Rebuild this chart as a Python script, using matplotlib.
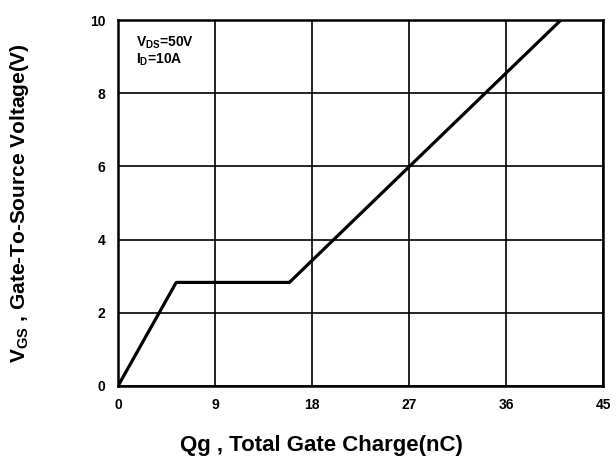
import matplotlib
matplotlib.use("Agg")
import matplotlib.pyplot as plt

plt.rcParams['font.family'] = ['Liberation Sans', 'DejaVu Sans']

# gate charge curve (nC, V)
qg = [0, 5.4, 15.9, 41.1]
vgs = [0, 2.83, 2.83, 10]

x_ticks = [0, 9, 18, 27, 36, 45]
y_ticks = [0, 2, 4, 6, 8, 10]

fig = plt.figure(figsize=(6.16, 4.57), dpi=100)
ax = fig.add_axes([0.1916, 0.1554, 0.7873, 0.8008])

ax.plot(qg, vgs, color='black', linewidth=2.3, solid_capstyle='butt', zorder=3)

ax.set_xlim(0, 45)
ax.set_ylim(0, 10)
ax.set_xticks(x_ticks)
ax.set_yticks(y_ticks)
ax.grid(True, color='black', linewidth=1.2)
for s in ax.spines.values():
    s.set_linewidth(1.8)
ax.tick_params(length=0, pad=9, labelsize=10)
for lbl in ax.get_xticklabels() + ax.get_yticklabels():
    lbl.set_fontweight('bold')

ax.set_xlabel('Qg , Total Gate Charge(nC)', fontsize=16, fontweight='bold', va='top')
ax.xaxis.set_label_coords(0.419, -0.135)
ax.set_ylabel(r'V$_{\mathregular{GS}}$ , Gate-To-Source Voltage(V)', fontsize=15,
              fontweight='bold')
ax.yaxis.set_label_coords(-0.179, 0.5)

ax.text(0.038, 0.96, r'V$_{\mathregular{DS}}$=50V', transform=ax.transAxes,
        fontsize=10, fontweight='bold', va='top')
ax.text(0.038, 0.913, r'I$_{\mathregular{D}}$=10A', transform=ax.transAxes,
        fontsize=10, fontweight='bold', va='top')

fig.savefig('out.png', dpi=100)
